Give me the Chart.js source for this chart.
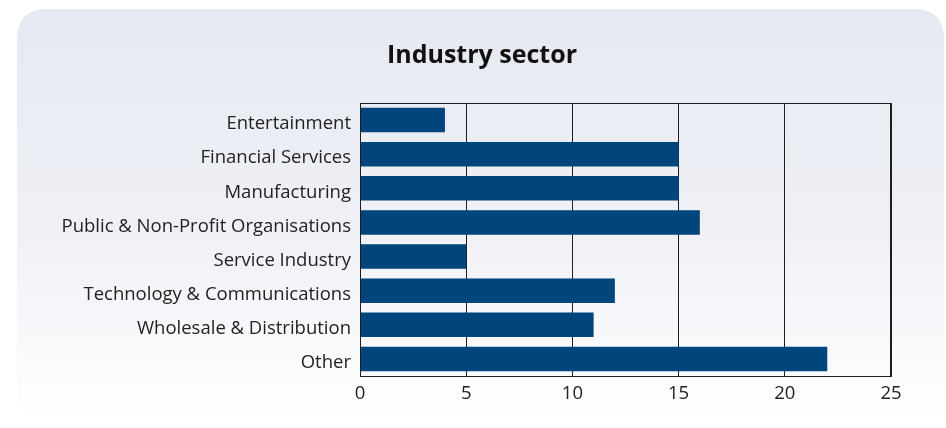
<!DOCTYPE html>
<html>
<head>
<meta charset="utf-8">
<script src="https://cdn.jsdelivr.net/npm/chart.js@4/dist/chart.umd.min.js"></script>
<style>
  html, body { margin: 0; padding: 0; background: #ffffff; }
  #wrap { width: 946px; height: 428px; position: relative; }
</style>
</head>
<body>
<div id="wrap"><canvas id="chart"></canvas></div>
<script>
// Respondents by industry sector
const categories = [
  'Entertainment',
  'Financial Services',
  'Manufacturing',
  'Public & Non-Profit Organisations',
  'Service Industry',
  'Technology & Communications',
  'Wholesale & Distribution',
  'Other'
];
const counts = [4, 15, 15, 16, 5, 12, 11, 22];
const xTicks = [0, 5, 10, 15, 20, 25];
const chartTitle = 'Industry sector';

const FONT = '"Open Sans", "Noto Sans", sans-serif';

// Rounded panel with a soft top-to-bottom gradient, plus the heading
const panelPlugin = {
  id: 'panel',
  beforeDraw(chart) {
    const ctx = chart.ctx;
    const x = 17, y = 9, w = 946 - 17 - 2, h = 428 - 9 - 8, r = 30;
    const g = ctx.createLinearGradient(0, y, 0, y + h);
    g.addColorStop(0, '#e6e9f2');
    g.addColorStop(0.55, '#eff1f6');
    g.addColorStop(1, '#ffffff');
    ctx.save();
    ctx.fillStyle = '#ffffff';
    ctx.fillRect(0, 0, chart.width, chart.height);
    ctx.beginPath();
    ctx.moveTo(x + r, y);
    ctx.lineTo(x + w - r, y);
    ctx.quadraticCurveTo(x + w, y, x + w, y + r);
    ctx.lineTo(x + w, y + h);
    ctx.lineTo(x, y + h);
    ctx.lineTo(x, y + r);
    ctx.quadraticCurveTo(x, y, x + r, y);
    ctx.closePath();
    ctx.fillStyle = g;
    ctx.fill();

    ctx.fillStyle = '#111111';
    ctx.font = 'bold 25px ' + FONT;
    ctx.textAlign = 'center';
    ctx.textBaseline = 'alphabetic';
    ctx.fillText(chartTitle, 482, 63);
    ctx.restore();
  }
};

// Frame around the plotting area
const framePlugin = {
  id: 'frame',
  afterDatasetsDraw(chart) {
    const a = chart.chartArea;
    const ctx = chart.ctx;
    ctx.save();
    ctx.strokeStyle = '#1e1e1e';
    ctx.lineWidth = 1;
    ctx.strokeRect(Math.round(a.left) + 0.5, Math.round(a.top) + 0.5,
                   Math.round(a.right - a.left) - 1, Math.round(a.bottom - a.top));
    ctx.restore();
  }
};

new Chart(document.getElementById('chart'), {
  type: 'bar',
  data: {
    labels: categories,
    datasets: [{
      data: counts,
      backgroundColor: '#00467d',
      borderWidth: 0,
      barPercentage: 0.9,
      categoryPercentage: 0.8
    }]
  },
  options: {
    indexAxis: 'y',
    responsive: true,
    maintainAspectRatio: false,
    animation: false,
    layout: { padding: { top: 103, right: 55, bottom: 0, left: 0 } },
    plugins: {
      legend: { display: false },
      tooltip: { enabled: false },
      title: { display: false }
    },
    scales: {
      x: {
        min: 0,
        max: 25,
        afterBuildTicks(scale) { scale.ticks = xTicks.map(v => ({ value: v })); },
        afterFit(scale) { scale.height = 52; },
        ticks: { color: '#222222', padding: 7, font: { family: FONT, size: 18.5 } },
        grid: { color: '#1e1e1e', lineWidth: 1, drawTicks: false },
        border: { display: true, color: '#1e1e1e', width: 1 }
      },
      y: {
        afterFit(scale) { scale.width = 360; },
        ticks: { color: '#222222', padding: 9, labelOffset: 4, font: { family: FONT, size: 18.5 } },
        grid: { display: false, drawTicks: false },
        border: { display: true, color: '#1e1e1e', width: 1 }
      }
    }
  },
  plugins: [panelPlugin, framePlugin]
});
</script>
</body>
</html>
